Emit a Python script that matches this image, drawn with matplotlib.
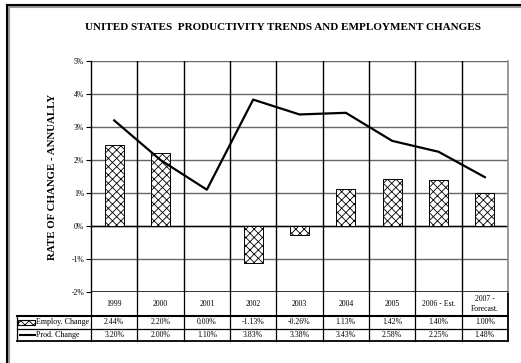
import matplotlib
matplotlib.use("Agg")
import matplotlib.pyplot as plt
from matplotlib.lines import Line2D
from matplotlib.patches import Rectangle
from matplotlib.transforms import blended_transform_factory

years = ['1999', '2000', '2001', '2002', '2003', '2004', '2005', '2006 - Est.', '2007 -\nForecast.']
employ = [2.44, 2.20, 0.00, -1.13, -0.26, 1.13, 1.42, 1.40, 1.00]
prod = [3.20, 2.00, 1.10, 3.83, 3.38, 3.43, 2.58, 2.25, 1.48]
employ_labels = ['2.44%', '2.20%', '0.00%', '-1.13%', '-0.26%', '1.13%', '1.42%', '1.40%', '1.00%']
prod_labels = ['3.20%', '2.00%', '1.10%', '3.83%', '3.38%', '3.43%', '2.58%', '2.25%', '1.48%']
yticks = [-2, -1, 0, 1, 2, 3, 4, 5]

plt.rcParams['font.family'] = ['Liberation Serif', 'DejaVu Serif']
plt.rcParams['hatch.linewidth'] = 0.6

W, H = 521, 363
fig = plt.figure(figsize=(W / 100, H / 100), dpi=100)
L, R, T, B = 91, 508, 61, 292
ax = fig.add_axes([L / W, 1 - B / H, (R - L) / W, (B - T) / H])

n = len(years)
xs = list(range(n))
ax.set_xlim(-0.5, n - 0.5)
ax.set_ylim(-2, 5)

# grid
for v in yticks:
    ax.axhline(v, color='#666666', lw=1.0, zorder=1)
ax.axhline(0, color='black', lw=1.0, zorder=1)
ax.axhline(-2, color='black', lw=1.8, zorder=3)
for i in range(n - 1):
    ax.axvline(i + 0.5, color='black', lw=1.0, zorder=1)

ax.bar(xs, employ, width=0.41, color='white', edgecolor='black', hatch='xxxx', lw=0.7, zorder=2)
ax.plot(xs, prod, color='black', lw=1.6, zorder=4)

for s in ['top', 'bottom']:
    ax.spines[s].set_visible(False)
ax.spines['right'].set_color('#888888')
ax.spines['right'].set_linewidth(1.2)
ax.spines['left'].set_linewidth(1.0)

ax.set_yticks(yticks)
ax.set_yticklabels([f'{v}%' for v in yticks], fontsize=5.5)
ax.tick_params(axis='y', length=3.5, width=0.8, pad=1.5)
ax.set_xticks([])
ax.set_ylabel('RATE OF CHANGE - ANNUALLY', fontsize=7.8, fontweight='bold')
ax.yaxis.set_label_coords((57 - L) / (R - L), 0.5)

fig.text(283 / W, 1 - 27 / H, 'UNITED STATES  PRODUCTIVITY TRENDS AND EMPLOYMENT CHANGES',
         ha='center', va='center', fontsize=8, fontweight='bold')

# table
tr = blended_transform_factory(ax.transData, ax.transAxes)
def yf(py):
    return (B - py) / (B - T)
def xf(px):
    return (px - L) / (R - L)

row_year_b = 316
row1_b = 328.5
row2_b = 341
leftx = 17

def hline(x0, x1, py, lw=0.9):
    ax.add_line(Line2D([x0, x1], [yf(py), yf(py)], transform=ax.transAxes, color='black', lw=lw, clip_on=False))
def vline(xa, py0, py1, transform, lw=0.9, color='black'):
    ax.add_line(Line2D([xa, xa], [yf(py0), yf(py1)], transform=transform, color=color, lw=lw, clip_on=False))

hline(xf(leftx), 1, row_year_b, lw=1.5)
hline(xf(leftx), 1, row1_b)
hline(xf(leftx), 1, row2_b, lw=1.3)
vline(-0.5, B, row2_b, tr)
for i in range(n - 1):
    vline(i + 0.5, B, row2_b, tr)
vline(n - 0.5, B, row2_b, tr, lw=1.3)
vline(xf(leftx), row_year_b, row2_b, ax.transAxes)

for i in range(n):
    ax.text(i, yf((B + row_year_b) / 2), years[i], transform=tr, ha='center', va='center',
            fontsize=5.6, linespacing=1.3)
    ax.text(i, yf((row_year_b + row1_b) / 2), employ_labels[i], transform=tr, ha='center',
            va='center', fontsize=5.6)
    ax.text(i, yf((row1_b + row2_b) / 2), prod_labels[i], transform=tr, ha='center',
            va='center', fontsize=5.6)

# legend keys in row labels
ax.add_patch(Rectangle((xf(18), yf(325)), xf(35) - xf(18), yf(320) - yf(325), transform=ax.transAxes,
                       facecolor='white', edgecolor='black', hatch='xxxx', lw=0.8, clip_on=False))
ax.add_line(Line2D([xf(20), xf(35)], [yf(335), yf(335)], transform=ax.transAxes, color='black',
                   lw=1.5, clip_on=False))
ax.text(xf(35.5), yf((row_year_b + row1_b) / 2), 'Employ. Change', transform=ax.transAxes,
        ha='left', va='center', fontsize=5.8)
ax.text(xf(35.5), yf((row1_b + row2_b) / 2), 'Prod. Change', transform=ax.transAxes,
        ha='left', va='center', fontsize=5.8)

# figure border with shadow
fig.add_artist(Line2D([8.5 / W, 8.5 / W], [0, 1 - 6.5 / H], transform=fig.transFigure, color='#999999', lw=1.5))
fig.add_artist(Line2D([8.5 / W, 1], [1 - 6.5 / H, 1 - 6.5 / H], transform=fig.transFigure, color='#999999', lw=1.5))
fig.add_artist(Line2D([7 / W, 7 / W], [0, 1 - 5 / H], transform=fig.transFigure, color='black', lw=1.5))
fig.add_artist(Line2D([7 / W, 1], [1 - 5 / H, 1 - 5 / H], transform=fig.transFigure, color='black', lw=1.5))

fig.savefig('out.png', dpi=100)
